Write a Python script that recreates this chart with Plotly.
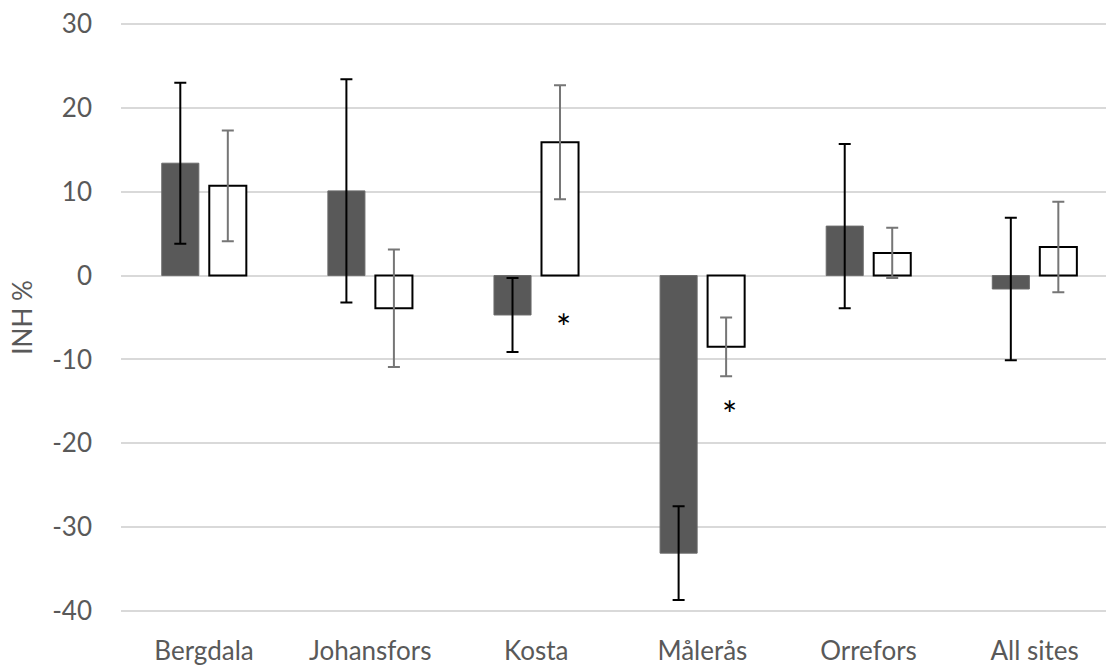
import plotly.graph_objects as go

categories = ["Bergdala", "Johansfors", "Kosta", "Målerås", "Orrefors", "All sites"]
series_a = [13.4, 10.1, -4.7, -33.1, 5.9, -1.6]
series_a_err = [9.6, 13.3, 4.4, 5.6, 9.8, 8.5]
series_b = [10.7, -3.9, 15.9, -8.5, 2.7, 3.4]
series_b_err = [6.6, 7.0, 6.8, 3.5, 3.0, 5.4]
sig_index = [2, 3]
sig_y = [-6.1, -16.5]
y_ticks = [-40, -30, -20, -10, 0, 10, 20, 30]
y_tick_labels = ["-40", "-30", "-20", "-10", "0", "10", "20", "30"]

FONT = "Lato, 'Open Sans', sans-serif"
TXT = "#595959"

fig = go.Figure()
fig.add_trace(go.Bar(
    x=categories, y=series_a, name="A",
    marker=dict(color="#595959", line=dict(color="#6a6a6a", width=1)),
    error_y=dict(type="data", array=series_a_err, visible=True,
                 color="#000000", thickness=2, width=6),
))
fig.add_trace(go.Bar(
    x=categories, y=series_b, name="B",
    marker=dict(color="#ffffff", line=dict(color="#000000", width=2)),
    error_y=dict(type="data", array=series_b_err, visible=True,
                 color="#767676", thickness=2, width=6),
))

for i, yv in zip(sig_index, sig_y):
    fig.add_annotation(x=i + 0.165, y=yv, xref="x", yref="y", text="*",
                       showarrow=False, font=dict(family=FONT, size=36, color="#000000"),
                       yanchor="middle", xanchor="center")

fig.update_layout(
    width=1106, height=666,
    margin=dict(l=121, r=0, t=21, b=52),
    paper_bgcolor="#ffffff", plot_bgcolor="#ffffff",
    barmode="group", bargap=0.428, bargroupgap=0.22,
    showlegend=False,
    font=dict(family=FONT, size=26, color=TXT),
)
fig.update_xaxes(
    type="category", range=[-0.5, 5.43], automargin=False,
    showgrid=False, showline=False, ticks="",
    tickfont=dict(family=FONT, size=26, color=TXT),
    ticklabelstandoff=19,
)
fig.update_yaxes(
    range=[-40.358, 30.358], tickvals=y_ticks, ticktext=y_tick_labels, automargin=False,
    showgrid=True, gridcolor="#d9d9d9", gridwidth=1.5,
    zeroline=True, zerolinecolor="#d9d9d9", zerolinewidth=1.5,
    showline=False, ticks="",
    tickfont=dict(family=FONT, size=26, color=TXT),
    ticklabelstandoff=28,
    title=dict(text="INH %", font=dict(family=FONT, size=26, color=TXT), standoff=12),
)
fig.write_html("out.html", config={"displayModeBar": False},
               post_script="document.body.style.margin='0';")
